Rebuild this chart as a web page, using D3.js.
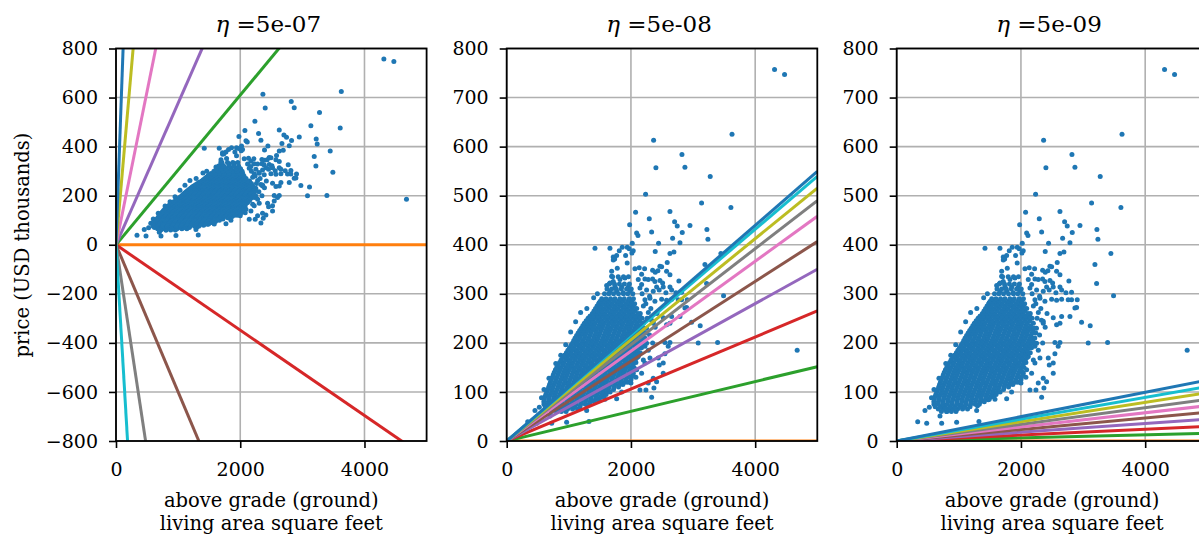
<!DOCTYPE html>
<html>
<head>
<meta charset="utf-8">
<script src="https://cdn.jsdelivr.net/npm/d3@7"></script>
<style>
body { margin: 0; background: #fff; }
svg { display: block; font-family: "DejaVu Serif", serif; }
.tick text { font-size: 19px; fill: #000; }
.title { font-size: 23px; }
.label { font-size: 19.5px; }
</style>
</head>
<body>
<svg id="fig" width="1199" height="537"></svg>
<script>
// learning rates (one panel each)
const etas = ["5e-07", "5e-08", "5e-09"];

// slope (price k$ per sqft) of the fitted line after each iteration
const slopesA = [0, 0.305, -0.174, 0.577, -0.60, 1.25, -1.68, 2.9, -4.3, 7.0];
const slopesB = [0, 0.0303, 0.053, 0.070, 0.0813, 0.0916, 0.098, 0.1031, 0.1079, 0.1099];
const slopesC = [0, 0.0031, 0.0060, 0.0089, 0.0117, 0.0144, 0.0170, 0.0197, 0.0222, 0.0248];

const lineColors = ["#ff7f0e", "#2ca02c", "#d62728", "#9467bd", "#8c564b",
                    "#e377c2", "#7f7f7f", "#bcbd22", "#17becf", "#1f77b4"];

const xTicks = [0, 2000, 4000];
const yTicksA = [-800, -600, -400, -200, 0, 200, 400, 600, 800];
const yTicksB = [0, 100, 200, 300, 400, 500, 600, 700, 800];

// scattered houses (sqft, price in thousands)
const houses = [
  [4312,757],[4473,747],[4676,185],[3627,625],[2365,613],[2402,557],[2236,503],[2821,584],
  [2869,558],[3276,539],[3137,485],[3609,476],[2950,439],[3223,431],[3239,411],[3448,382],
  [3191,360],[3218,321],[3491,296],[2976,242],[3115,235],[3083,200],[3395,201],
  [2075,466],[2628,468],[2295,453],[2703,447],[2745,438],[1979,441],[2092,424],[2113,419],
  [2333,426],[2826,425],[2671,413],[2789,404],[2445,403],[2021,403],[1662,393],[1421,393],
  [1860,395],[1940,395],[1972,392],[1812,388],[2016,383],[2037,388],[2628,382],[2692,385],
  [2391,386],[1715,375],[1770,378],[1738,371],[1914,378],[1940,363],[2584,364],[2494,355],
  [2064,351],[2133,353],[2220,351],[2349,348],[2391,344],[2434,347],[2466,356],[2574,346],
  [2628,339],[2772,326],[2172,340],[2225,330],[2118,329],[2279,329],[2349,330],[2386,325],
  [2467,327],[2510,322],[2520,314],[2628,314],[2413,314],[2455,308],[2252,308],[2359,305],
  [2563,302],[2724,302],[2815,303],[2655,308],[2172,319],[2145,312],[1689,336],[1715,325],
  [1823,329],[1903,332],[1743,315],[1850,314],[1662,305],[1770,305],[1876,302],[1957,314],
  [1984,305],[1662,322],[1609,317],[1490,282],[1340,254],
  [2225,288],[2306,291],[2386,285],[2494,289],[2574,287],[2655,289],[2761,288],[2815,288],
  [2906,288],[2869,271],[2789,254],[2655,254],[2520,251],[2359,240],[2896,272],
  [338,39],[483,36],[724,36],[965,38],[1324,40],[455,62],[525,69],[697,51],[804,60],
  [885,65],[1072,69],[1287,62],[1474,84],[1582,85],[1770,86],[2333,89],[2145,104],
  [2241,104],[2370,108],[2520,138],[2359,128],[2279,118],[2413,121],[2520,159],[2456,155],
  [2306,169],[2440,169],[2547,201],[2628,201],[2600,193],[2252,199],[2225,193],[2574,237],
  [2628,240],[2359,244],[2225,159],[2092,145],[2172,138],[2037,138],[2118,172],[1931,152],
  [2547,178],[1300,72],[1850,100],[2000,118],[560,88],[600,105],[680,128],[790,158],
  [870,175],[950,196],[1030,222],[1110,243],[1190,262],[1290,270],[1400,292],[1460,300],
  [2330,246],[2390,232],[2300,216],[2280,262],[1716,369],[1780,352],[1690,346],
  [2150,260],[2200,275],[2260,250],[2320,270],[2180,300],[2250,230],[2420,260],[2300,295],
  [2150,230],[2240,280],[2150,180],[2200,165],[2280,185],[2350,200],[2180,210]
];

// dense core of the cloud: [price, sqft values]
const coreRows = [
  [60, [720, 805, 880, 955]],
  [65, [670, 745, 820, 900, 980, 1060, 1140]],
  [70, [620, 705, 778, 862, 940, 1018, 1097, 1180]],
  [75, [600, 665, 740, 815, 890, 965, 1040, 1115, 1190, 1265, 1330]],
  [80, [598, 672, 745, 822, 893, 970, 1047, 1118, 1196, 1268, 1344, 1410]],
  [85, [605, 680, 755, 830, 905, 980, 1055, 1130, 1205, 1280, 1355, 1430, 1490]],
  [90, [615, 688, 766, 838, 917, 991, 1063, 1142, 1214, 1292, 1363, 1441, 1512, 1560]],
  [95, [630, 705, 780, 855, 930, 1005, 1080, 1155, 1230, 1305, 1380, 1455, 1530, 1600]],
  [100, [644, 722, 793, 872, 944, 1021, 1093, 1171, 1243, 1322, 1394, 1471, 1544, 1618, 1665]],
  [105, [660, 735, 810, 885, 960, 1035, 1110, 1185, 1260, 1335, 1410, 1485, 1560, 1635, 1720]],
  [110, [676, 748, 827, 898, 977, 1048, 1127, 1198, 1277, 1348, 1427, 1498, 1577, 1648, 1727, 1800]],
  [115, [690, 765, 840, 915, 990, 1065, 1140, 1215, 1290, 1365, 1440, 1515, 1590, 1665, 1740, 1815, 1870]],
  [120, [704, 782, 853, 932, 1003, 1082, 1153, 1232, 1303, 1382, 1453, 1532, 1603, 1682, 1753, 1832, 1903, 1950]],
  [125, [720, 795, 870, 945, 1020, 1095, 1170, 1245, 1320, 1395, 1470, 1545, 1620, 1695, 1770, 1845, 1920, 2000]],
  [130, [736, 808, 887, 958, 1037, 1108, 1187, 1258, 1337, 1408, 1487, 1558, 1637, 1708, 1787, 1858, 1937, 2008, 2080]],
  [135, [750, 825, 900, 975, 1050, 1125, 1200, 1275, 1350, 1425, 1500, 1575, 1650, 1725, 1800, 1875, 1950, 2030]],
  [140, [766, 838, 917, 988, 1067, 1138, 1217, 1288, 1367, 1438, 1517, 1588, 1667, 1738, 1817, 1888, 1967, 2030]],
  [145, [785, 860, 935, 1010, 1085, 1160, 1235, 1310, 1385, 1460, 1535, 1610, 1685, 1760, 1835, 1910, 1990]],
  [150, [806, 878, 957, 1028, 1107, 1178, 1257, 1328, 1407, 1478, 1557, 1628, 1707, 1778, 1857, 1928, 2007, 2050]],
  [155, [830, 905, 980, 1055, 1130, 1205, 1280, 1355, 1430, 1505, 1580, 1655, 1730, 1805, 1880, 1955, 2030]],
  [160, [851, 923, 1002, 1073, 1152, 1223, 1302, 1373, 1452, 1523, 1602, 1673, 1752, 1823, 1902, 1973, 2052, 2080]],
  [165, [875, 950, 1025, 1100, 1175, 1250, 1325, 1400, 1475, 1550, 1625, 1700, 1775, 1850, 1925, 2000, 2070]],
  [170, [902, 973, 1052, 1123, 1202, 1273, 1352, 1423, 1502, 1573, 1652, 1723, 1802, 1873, 1952, 2023, 2100]],
  [175, [930, 1005, 1080, 1155, 1230, 1305, 1380, 1455, 1530, 1605, 1680, 1755, 1830, 1905, 1980, 2060]],
  [180, [961, 1033, 1112, 1183, 1262, 1333, 1412, 1483, 1562, 1633, 1712, 1783, 1862, 1933, 2012, 2083, 2120]],
  [185, [985, 1060, 1135, 1210, 1285, 1360, 1435, 1510, 1585, 1660, 1735, 1810, 1885, 1960, 2035, 2100]],
  [190, [1011, 1083, 1162, 1233, 1312, 1383, 1462, 1533, 1612, 1683, 1762, 1833, 1912, 1983, 2062, 2133, 2170]],
  [195, [1035, 1110, 1185, 1260, 1335, 1410, 1485, 1560, 1635, 1710, 1785, 1860, 1935, 2010, 2085, 2150]],
  [200, [1061, 1133, 1212, 1283, 1362, 1433, 1512, 1583, 1662, 1733, 1812, 1883, 1962, 2033, 2112, 2183, 2220]],
  [205, [1080, 1155, 1230, 1305, 1380, 1455, 1530, 1605, 1680, 1755, 1830, 1905, 1980, 2055, 2130, 2190]],
  [210, [1101, 1173, 1252, 1323, 1402, 1473, 1552, 1623, 1702, 1773, 1852, 1923, 2002, 2073, 2152, 2223]],
  [215, [1125, 1190, 1265, 1340, 1415, 1490, 1565, 1640, 1715, 1790, 1865, 1940, 2015, 2090, 2160]],
  [220, [1150, 1213, 1282, 1353, 1432, 1503, 1582, 1653, 1732, 1803, 1882, 1953, 2032, 2103, 2182, 2240]],
  [225, [1175, 1240, 1305, 1370, 1445, 1520, 1595, 1670, 1745, 1820, 1895, 1970, 2045, 2120, 2190]],
  [230, [1200, 1263, 1322, 1393, 1462, 1533, 1612, 1683, 1762, 1833, 1912, 1983, 2062, 2133, 2212]],
  [235, [1225, 1285, 1340, 1405, 1480, 1555, 1630, 1705, 1780, 1855, 1930, 2005, 2080, 2155]],
  [240, [1250, 1303, 1362, 1423, 1502, 1573, 1652, 1723, 1802, 1873, 1952, 2023, 2102, 2200]],
  [245, [1280, 1335, 1390, 1465, 1540, 1615, 1690, 1765, 1840, 1915, 1990, 2065, 2140]],
  [250, [1310, 1363, 1432, 1503, 1582, 1653, 1732, 1803, 1882, 1953, 2032, 2103, 2180]],
  [255, [1345, 1405, 1470, 1545, 1620, 1695, 1770, 1845, 1920, 1995, 2070, 2140]],
  [260, [1380, 1443, 1512, 1583, 1662, 1733, 1812, 1883, 1962, 2033, 2112]],
  [265, [1405, 1465, 1540, 1615, 1690, 1765, 1840, 1915, 1990, 2060]],
  [270, [1430, 1495, 1572, 1643, 1722, 1793, 1872, 1943, 2022, 2093]],
  [275, [1455, 1520, 1595, 1670, 1745, 1820, 1895, 1970, 2040]],
  [280, [1480, 1543, 1622, 1693, 1772, 1843, 1922, 1993, 2060]],
  [285, [1505, 1575, 1650, 1725, 1800, 1875, 1950, 2010]],
  [290, [1530, 1600, 1672, 1743, 1822, 1893, 1972, 2040]],
  [300, [1575, 1645, 1720, 1800, 1880, 1950, 2030]],
  [310, [1615, 1690, 1765, 1845, 1930, 2005]],
  [320, [1650, 1735, 1815, 1895, 1975]],
  [335, [1705, 1795, 1880, 1960]]
];

const points = houses.concat(coreRows.flatMap(r => r[1].map(x => [x, r[0]])));

const panels = [
  { eta: etas[0], slopes: slopesA, yDomain: [-800, 800], yTicks: yTicksA, left: 116 },
  { eta: etas[1], slopes: slopesB, yDomain: [0, 800], yTicks: yTicksB, left: 506.7 },
  { eta: etas[2], slopes: slopesC, yDomain: [0, 800], yTicks: yTicksB, left: 896.7 }
];

const pw = 310.6, axTop = 48.5, axBottom = 441;
const svg = d3.select("#fig");
const fmt = d3.format("d");

panels.forEach(function(p, i) {
  const x = d3.scaleLinear().domain([0, 5000]).range([p.left, p.left + pw]);
  const y = d3.scaleLinear().domain(p.yDomain).range([axBottom, axTop]);
  const g = svg.append("g");

  g.append("clipPath").attr("id", "clip" + i)
    .append("rect").attr("x", p.left).attr("y", axTop).attr("width", pw).attr("height", axBottom - axTop);

  // grid
  g.selectAll(".gx").data(xTicks).enter().append("line")
    .attr("x1", d => x(d)).attr("x2", d => x(d)).attr("y1", axTop).attr("y2", axBottom)
    .attr("stroke", "#b0b0b0").attr("stroke-width", 1.6);
  g.selectAll(".gy").data(p.yTicks).enter().append("line")
    .attr("x1", p.left).attr("x2", p.left + pw).attr("y1", d => y(d)).attr("y2", d => y(d))
    .attr("stroke", "#b0b0b0").attr("stroke-width", 1.6);

  const plot = g.append("g").attr("clip-path", "url(#clip" + i + ")");
  plot.selectAll("circle").data(points).enter().append("circle")
    .attr("cx", d => x(d[0])).attr("cy", d => y(d[1])).attr("r", 2.5)
    .attr("fill", "#1f77b4");

  plot.selectAll(".fit").data(p.slopes).enter().append("line")
    .attr("x1", x(0)).attr("y1", y(0))
    .attr("x2", x(5000)).attr("y2", d => y(d * 5000))
    .attr("stroke", (d, k) => lineColors[k]).attr("stroke-width", 3);

  // spines
  g.append("rect").attr("x", p.left).attr("y", axTop).attr("width", pw).attr("height", axBottom - axTop)
    .attr("fill", "none").attr("stroke", "#000").attr("stroke-width", 1.8);

  const ax = g.append("g").attr("transform", "translate(0," + axBottom + ")")
    .call(d3.axisBottom(x).tickValues(xTicks).tickFormat(fmt).tickSize(7).tickPadding(15));
  const ay = g.append("g").attr("transform", "translate(" + p.left + ",0)")
    .call(d3.axisLeft(y).tickValues(p.yTicks).tickFormat(fmt).tickSize(7).tickPadding(11));
  [ax, ay].forEach(a => {
    a.select(".domain").remove();
    a.selectAll(".tick line").attr("stroke", "#000").attr("stroke-width", 1.6);
    a.attr("font-family", null).attr("font-size", null);
  });

  const cx = p.left + pw / 2;
  g.append("text").attr("class", "title").attr("x", cx - 3).attr("y", 32)
    .attr("text-anchor", "middle")
    .call(t => {
      t.append("tspan").attr("font-style", "italic").text("η");
      t.append("tspan").text(" =" + p.eta);
    });
  g.append("text").attr("class", "label").attr("x", cx).attr("y", 507)
    .attr("text-anchor", "middle").text("above grade (ground)");
  g.append("text").attr("class", "label").attr("x", cx).attr("y", 530)
    .attr("text-anchor", "middle").text("living area square feet");
});

svg.append("text").attr("class", "label")
  .attr("transform", "translate(29,245) rotate(-90)")
  .attr("text-anchor", "middle").text("price (USD thousands)");
</script>
</body>
</html>
